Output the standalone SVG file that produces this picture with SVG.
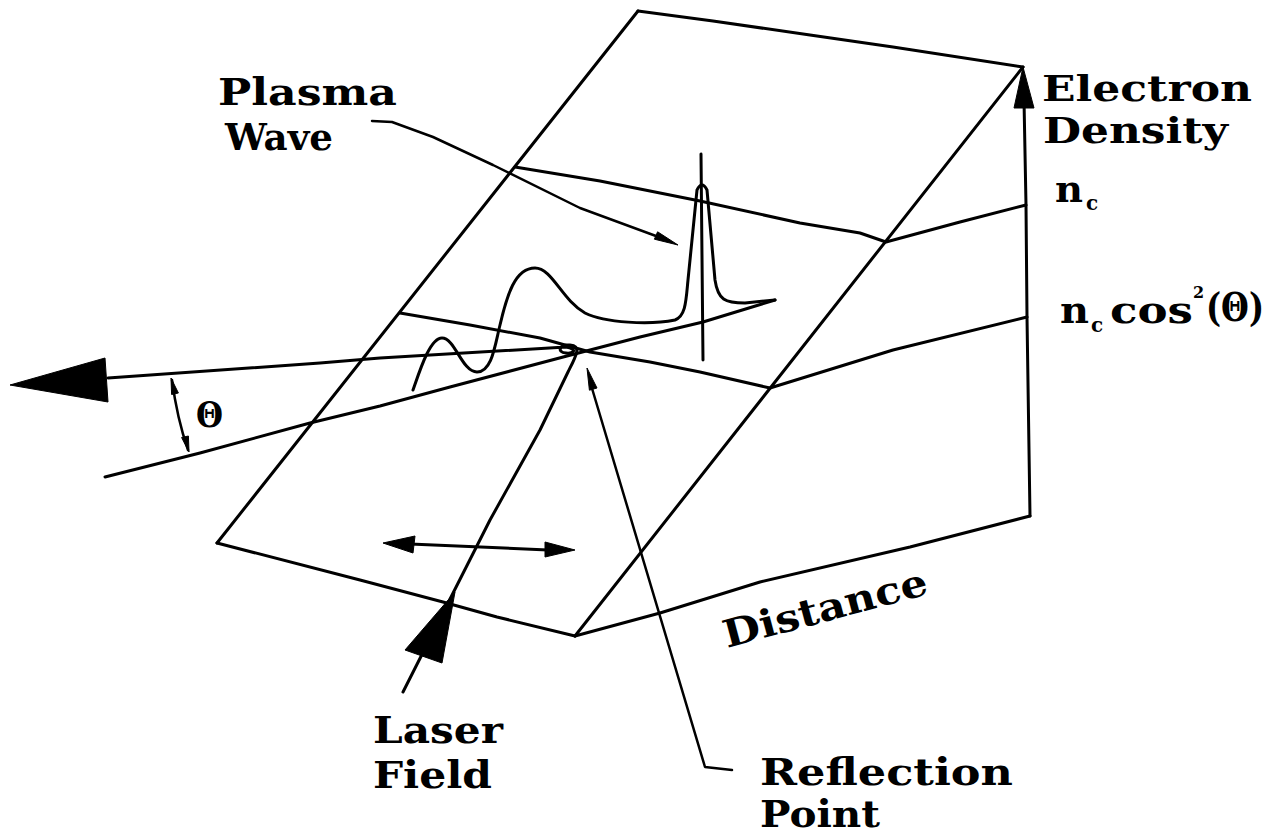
<svg xmlns="http://www.w3.org/2000/svg" width="1283" height="836" viewBox="0 0 1283 836">
<style>
.ln{fill:none;stroke:#000;stroke-width:3;stroke-linejoin:round;stroke-linecap:round}
.th{fill:none;stroke:#000;stroke-width:2.5;stroke-linejoin:round;stroke-linecap:round}
.hd{fill:#000;stroke:#000;stroke-width:1;stroke-linejoin:round}
.lb{font-family:"DejaVu Serif","Liberation Serif",serif;font-weight:bold;font-size:38px;fill:#000}
.sub{font-family:"DejaVu Serif","Liberation Serif",serif;font-weight:bold;font-size:20px;fill:#000}
</style>
<rect width="1283" height="836" fill="#fff"/>
<g id="prism">
<polyline class="ln" points="638,11 217,543"/>
<polyline class="ln" points="638,11 713,21 810,35 893,47 1023,67"/>
<polyline class="ln" points="1023,67 575,636"/>
<polyline class="ln" points="217,543 360,580 443,602 497,617 575,636"/>
<polyline class="ln" points="575,636 660,613 760,582 910,547 1030,516"/>
<polyline class="ln" points="1024,100 1026,205 1027,317 1030,516"/>
<polygon class="hd" points="1023,67 1034,108 1014,108"/>
</g>
<g id="density-levels">
<polyline class="ln" points="515,167 600,181 700,201 800,223 860,233 886,242 960,222 1026,205"/>
<polyline class="ln" points="400,313 470,325 540,338 590,352 650,362 700,372 770,388 893,350 1027,317"/>
</g>
<g id="rays">
<polyline class="ln" points="105,477 200,453 310,423 380,406 450,387 567,356 640,337 703,322 775,300"/>
<path class="ln" d="M403,692 L490,520 L540,430 L568,372 C576,356 582,346 570,345 C560,344 556,352 566,353 C574,354 578,349 566,347 L380,358 L320,363 L108,378"/>
<polygon class="hd" points="10,385 105,358 108,402"/>
<polygon class="hd" points="455,592 442,663 405,650"/>
<path class="th" d="M172,380 Q177,418 188,450"/>
<polygon class="hd" points="171,378 178.4,393 171.6,394.5"/>
<polygon class="hd" points="189,452 188.4,436 181.6,437.5"/>
<text x="196" y="427" style="font-family:'DejaVu Serif',serif;font-weight:bold;font-size:36px" textLength="27" lengthAdjust="spacingAndGlyphs">Θ</text>
</g>
<g id="wave">
<path class="ln" d="M413,390 C420,370 430,338 442,338 C455,338 462,372 477,372 C492,372 495,345 500,325 C507,295 515,268 535,268 C552,268 562,300 585,313 C605,323 650,325 675,320 C686,316 686,300 688,280 L697,190 Q702,180 707,190 L715,280 C718,300 725,303 745,303 L775,300"/>
<line class="ln" x1="701" y1="154" x2="703" y2="360"/>
</g>
<g id="pol-arrow">
<polyline class="ln" points="410,544 548,550"/>
<polygon class="hd" points="383,543 415,536 413,553"/>
<polygon class="hd" points="575,550 545,542 545,557"/>
</g>
<g id="connectors">
<polyline class="th" points="372,121 392,122 433,137 493,165 580,208 656,236"/>
<polygon class="hd" points="678,245 654.4,239.2 657.6,231.8"/>
<polyline class="th" points="591,385 705,767 732,770"/>
<polygon class="hd" points="587,368 597,388 589.4,390.2"/>
</g>
<g id="label-plasma-wave">
<text class="lb" x="218" y="105" textLength="179" lengthAdjust="spacingAndGlyphs">Plasma</text>
<text class="lb" x="225" y="150" textLength="108" lengthAdjust="spacingAndGlyphs">Wave</text>
</g>
<g id="label-electron-density">
<text class="lb" x="1042" y="101" style="font-size:35px" textLength="210" lengthAdjust="spacingAndGlyphs">Electron</text>
<text class="lb" x="1043" y="143" style="font-size:35px" textLength="185" lengthAdjust="spacingAndGlyphs">Density</text>
</g>
<g id="label-nc">
<text class="lb" x="1055" y="202" textLength="28" lengthAdjust="spacingAndGlyphs">n</text>
<text class="sub" x="1086" y="210">c</text>
</g>
<g id="label-nccos">
<text class="lb" x="1060" y="323" textLength="29" lengthAdjust="spacingAndGlyphs">n</text>
<text class="sub" x="1091" y="332">c</text>
<text class="lb" x="1110" y="323" textLength="83" lengthAdjust="spacingAndGlyphs">cos</text>
<text class="sub" x="1193" y="298" style="font-size:16px">2</text>
<text class="lb" x="1206" y="321" style="font-size:40px" textLength="58" lengthAdjust="spacingAndGlyphs">(Θ)</text>
</g>
<g id="label-distance">
<text class="lb" x="727" y="648" transform="rotate(-15 727 648)" textLength="210" lengthAdjust="spacingAndGlyphs">Distance</text>
</g>
<g id="label-laser-field">
<text class="lb" x="373" y="743" textLength="130" lengthAdjust="spacingAndGlyphs">Laser</text>
<text class="lb" x="373" y="788" textLength="119" lengthAdjust="spacingAndGlyphs">Field</text>
</g>
<g id="label-reflection-point">
<text class="lb" x="760" y="785" textLength="253" lengthAdjust="spacingAndGlyphs">Reflection</text>
<text class="lb" x="760" y="827" textLength="120" lengthAdjust="spacingAndGlyphs">Point</text>
</g>
</svg>
